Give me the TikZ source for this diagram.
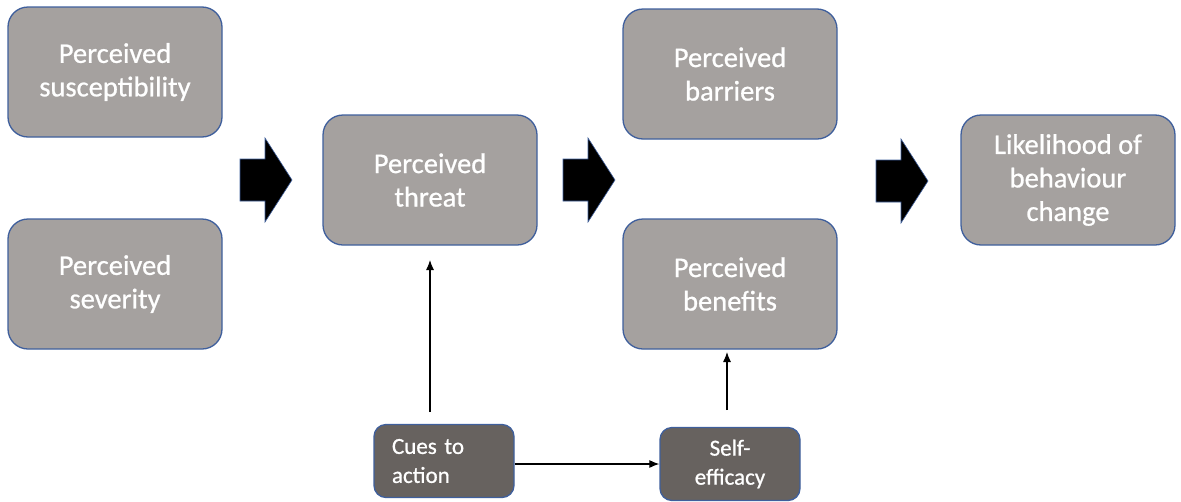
\documentclass[tikz,border=0pt]{standalone}
\usepackage{fontspec}
\setmainfont{Carlito}
\newfontface\boxface{Carlito}[FakeBold=0.8]
\usetikzlibrary{arrows.meta}
\definecolor{boxlight}{HTML}{A5A19F}
\definecolor{boxdark}{HTML}{67625F}
\definecolor{boxedge}{HTML}{3F5F9C}
\begin{document}
\begin{tikzpicture}[x=1pt,y=-1pt,
  bigbox/.style={draw=boxedge, line width=1.3pt, fill=boxlight, rounded corners=20pt,
    minimum width=214pt, minimum height=130pt, text=white, align=center, inner sep=0pt,
    font=\boxface\fontsize{28.5}{33.5}\selectfont},
  smallbox/.style={draw=boxedge, line width=1.3pt, fill=boxdark, rounded corners=12pt,
    minimum width=140pt, minimum height=73pt, text=white, inner sep=0pt,
    font=\boxface\fontsize{23}{29}\selectfont},
  link/.style={-{Latex[length=10pt,width=8pt]}, line width=1.1pt, black},
  blockarrow/.style={fill=black, draw=boxedge, line width=0.6pt, line join=miter}
]
\useasboundingbox (0,0) rectangle (1181,501);

% model constructs
\node[bigbox] (sus)  at (115,72)   {Perceived\\susceptibility};
\node[bigbox] (sev)  at (115,284)  {Perceived\\severity};
\node[bigbox] (thr)  at (430,180)  {Perceived\\threat};
\node[bigbox] (bar)  at (730,74)   {Perceived\\barriers};
\node[bigbox] (ben)  at (730,284)  {Perceived\\benefits};
\node[bigbox] (lik)  at (1068,180) {Likelihood of\\behaviour\\change};
\node[smallbox, text width=104pt, align=left] (cue) at (444,461) {Cues to\\action};
\node[smallbox, align=center] (eff) at (730,464) {Self-\\efficacy};

% block arrows between the stages
\foreach \bx/\by in {240/180, 563/180, 876/181}{
  \draw[blockarrow] (\bx,\by-21) -- ++(25,0) -- ++(0,-21) -- ++(27,42)
     -- ++(-27,42) -- ++(0,-21) -- ++(-25,0) -- cycle;
}

% free ends of the vertical influence arrows
\coordinate (cueTop) at (430,412);
\coordinate (thrIn)  at (430,260);
\coordinate (effTop) at (727,410);
\coordinate (benIn)  at (727,352);

% influences
\draw[link] (cueTop) -- (thrIn);
\draw[link] (effTop) -- (benIn);
\draw[link] (cue.east |- eff.west) -- (eff.west);
\end{tikzpicture}
\end{document}
